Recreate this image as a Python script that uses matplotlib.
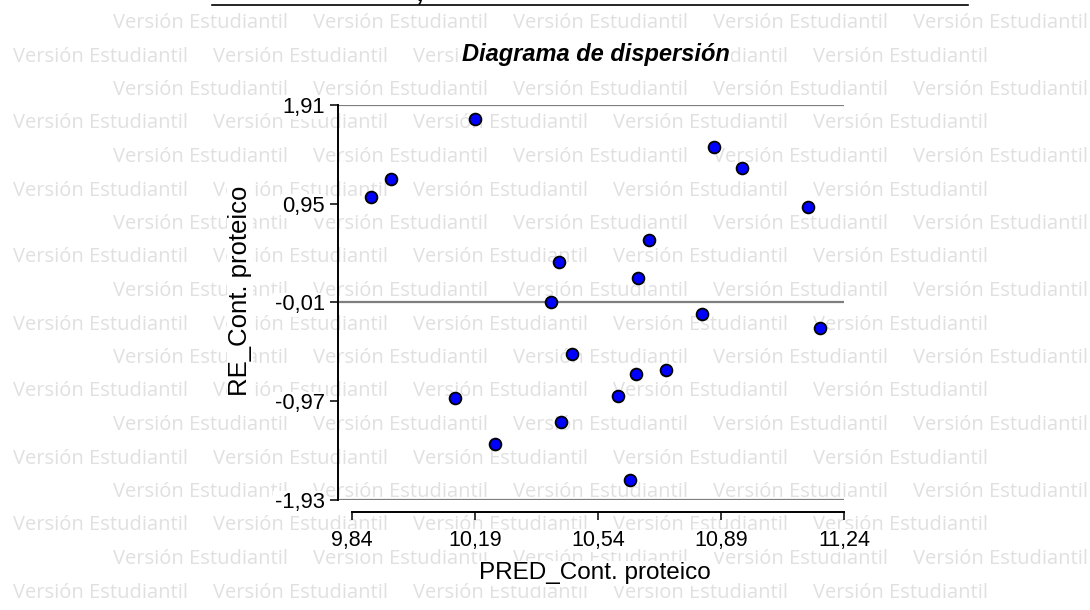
"""Residual vs. predicted scatter for Cont. proteico (InfoStat-style layout)."""
import matplotlib.pyplot as plt
from matplotlib.lines import Line2D
from matplotlib.transforms import IdentityTransform

plt.rcParams['font.family'] = ['Liberation Sans', 'DejaVu Sans']

# predicted values and studentized residuals
pred = [10.190, 9.951, 9.894, 10.429, 10.653, 10.406, 10.869, 10.949, 11.137, 10.686,
        10.835, 11.171, 10.465, 10.647, 10.733, 10.133, 10.596, 10.435, 10.247, 10.631]
resid = [1.771, 1.188, 1.013, 0.387, 0.231, -0.005, 1.499, 1.300, 0.915, 0.600,
         -0.119, -0.255, -0.511, -0.705, -0.666, -0.941, -0.919, -1.172, -1.386, -1.739]

x_ticks = [9.84, 10.19, 10.54, 10.89, 11.24]
y_ticks = [1.91, 0.95, -0.01, -0.97, -1.93]
ref_lines = [1.91, -0.01, -1.93]


def fmt(v):
    return f"{v:.2f}".replace(".", ",")


W, H = 1090, 610
fig = plt.figure(figsize=(W / 100, H / 100), dpi=100)

# tiled licence watermark, sits behind the axes
for k in range(18):
    base = H - (28 + 33.5 * k)
    x0 = 113 if k % 2 == 0 else 13
    for i in range(5):
        fig.text(x0 + 200 * i, base, "Versión Estudiantil",
                 transform=IdentityTransform(), family="Open Sans",
                 fontsize=14.5, color="#e0e0e0", va="baseline", zorder=-5)

# header rule and the tail of the header text, cut at the top edge
fig.add_artist(Line2D([212 / W, 968 / W], [1 - 5 / H] * 2, color="black", lw=1.2))
fig.text(417 / W, 1 - 1 / H, ",", fontsize=17, fontweight="bold",
         fontstyle="italic", va="baseline")

ax = fig.add_axes([338 / W, 1 - 500 / H, 506 / W, 395 / H])
ax.patch.set_visible(False)
ax.set_xlim(9.80, 11.24)
ax.set_ylim(-1.93, 1.91)

for y in ref_lines:
    ax.axhline(y, color="#7f7f7f", lw=1.6, zorder=1)

ax.scatter(pred, resid, s=72, c="#0000ff", edgecolors="black",
           linewidths=1.3, zorder=3, clip_on=False)

ax.spines[["top", "right"]].set_visible(False)
for side in ("left", "bottom"):
    ax.spines[side].set_linewidth(1.4)
ax.spines["bottom"].set_position(("outward", 8.6))
ax.spines["bottom"].set_bounds(x_ticks[0], x_ticks[-1])

ax.set_xticks(x_ticks, [fmt(v) for v in x_ticks])
ax.set_yticks(y_ticks, [fmt(v) for v in y_ticks])
ax.tick_params(axis="x", length=6, width=1.1, pad=7, labelsize=15.5)
ax.tick_params(axis="y", length=6, width=1.1, pad=3.5, labelsize=15.8)
white = dict(facecolor="white", edgecolor="none", pad=1)
for lab in ax.get_xticklabels() + ax.get_yticklabels():
    lab.set_bbox(white)

ax.set_xlabel("PRED_Cont. proteico", fontsize=17.5, bbox=white)
ax.xaxis.set_label_coords(0.508, -0.158)
ax.set_ylabel("RE_Cont. proteico", fontsize=18.5, bbox=white)
ax.yaxis.set_label_coords(-0.17, 0.53)

ax.set_title("Diagrama de dispersión", fontsize=17, fontweight="bold",
             fontstyle="italic", y=1.112, pad=0, x=0.51, bbox=white)

fig.savefig("out.png", dpi=100)
